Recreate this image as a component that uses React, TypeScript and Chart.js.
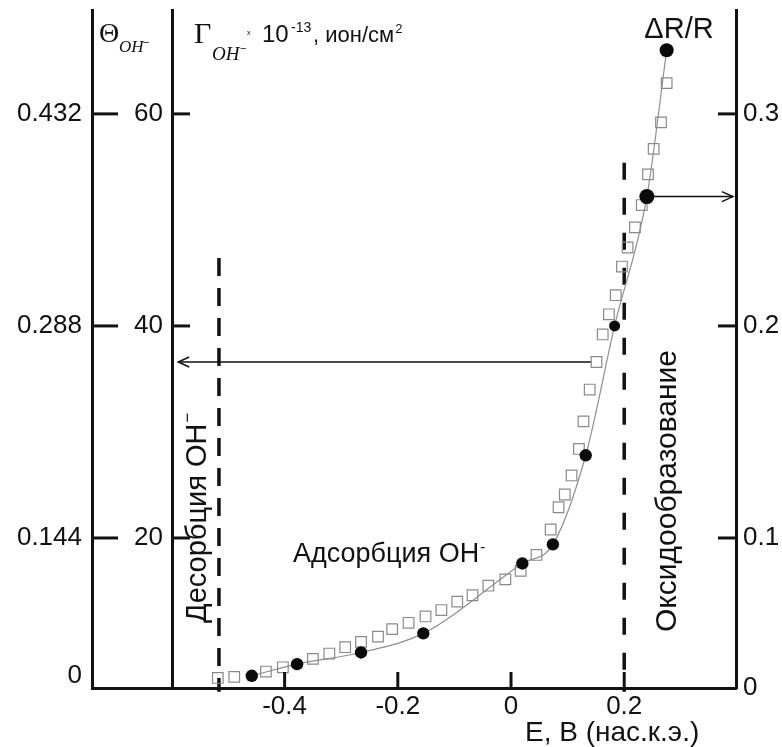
import React, { useEffect, useRef } from "react";
import { Chart, registerables } from "chart.js";

Chart.register(...registerables);

// ---------- data ----------
// Open squares: Γ(OH-) ×10^-13, ion/cm² vs E, V (sat. cal. el.)
const squareE = [-0.518, -0.489, -0.433, -0.403, -0.350, -0.321, -0.293, -0.265, -0.235, -0.210, -0.181, -0.151, -0.123, -0.095, -0.068, -0.040, -0.010, 0.017, 0.045, 0.070, 0.084, 0.095, 0.107, 0.120, 0.128, 0.139, 0.151, 0.162, 0.173, 0.185, 0.196, 0.206, 0.219, 0.231, 0.242, 0.252, 0.265, 0.275];
const squareGamma = [6.8, 6.9, 7.4, 7.8, 8.6, 9.1, 9.7, 10.2, 10.7, 11.4, 12.0, 12.6, 13.2, 14.0, 14.6, 15.5, 16.1, 16.9, 18.4, 20.8, 22.9, 24.1, 25.9, 28.4, 31.0, 34.0, 36.6, 39.2, 41.1, 42.9, 45.6, 47.4, 49.3, 51.4, 54.3, 56.7, 59.2, 62.9];

// Filled circles: ΔR/R vs E
const circleE = [-0.458, -0.378, -0.265, -0.155, 0.020, 0.074, 0.132, 0.183, 0.240, 0.275];
const circleR = [0.035, 0.0405, 0.046, 0.055, 0.088, 0.097, 0.139, 0.200, 0.261, 0.330];

// Axis ranges
const eMin = -0.7403;
const eMax = 0.3975;
const gammaMin = 5.85;
const gammaMax = 69.8;
const thetaPerGamma = 0.0072;
const rPerGamma = 0.005;
const gammaAxisE = -0.5972;

// Tick values / labels
const xTickValues = [-0.4, -0.2, 0, 0.2];
const xTickLabels = ["-0.4", "-0.2", "0", "0.2"];
const gammaTickValues = [20, 40, 60];
const gammaTickLabels = ["20", "40", "60"];
const thetaTickValues = [0.0504, 0.144, 0.288, 0.432];
const thetaTickLabels = ["0", "0.144", "0.288", "0.432"];
const rTickValues = [0.02925, 0.1, 0.2, 0.3];
const rTickLabels = ["0", "0.1", "0.2", "0.3"];

// Dashed boundaries (E, Γ range)
const desorptionE = -0.516;
const desorptionGamma = [46.4, 5.5];
const oxideE = 0.2;
const oxideGamma = [55.4, 5.5];

// Arrows
const adsorptionArrowE = [0.142, -0.588];
const adsorptionArrowGamma = 36.6;
const reflectArrowE = [0.250, 0.392];
const reflectArrowR = 0.261;

// ---------- styling ----------
const SANS = '"Liberation Sans", Arial, sans-serif';
const SERIF = '"Liberation Serif", "Times New Roman", serif';
const INK = "#111111";
const tickFont = { family: SANS, size: 26 };

function seg(ctx: any, x1: number, y1: number, x2: number, y2: number) {
  ctx.beginPath();
  ctx.moveTo(x1, y1);
  ctx.lineTo(x2, y2);
  ctx.stroke();
}

const decorPlugin = {
  id: "decor",
  afterDraw(chart: any) {
    const { ctx, chartArea, scales } = chart;
    const sx = scales.x;
    const sg = scales.y;
    const st = scales.yTheta;
    const sr = scales.yR;
    ctx.save();
    ctx.strokeStyle = INK;
    ctx.fillStyle = INK;
    ctx.lineWidth = 3;
    ctx.lineCap = "butt";

    const txt = (s: string, x: number, y: number, font: string, align: any = "left", base: any = "alphabetic") => {
      ctx.font = font;
      ctx.textAlign = align;
      ctx.textBaseline = base;
      ctx.fillText(s, x, y);
      return ctx.measureText(s).width;
    };

    // inward tick marks
    thetaTickValues.forEach((v, i) => {
      if (i === 0) return;
      const py = st.getPixelForValue(v);
      seg(ctx, chartArea.left, py, chartArea.left + 26, py);
    });
    const gx = sx.getPixelForValue(gammaAxisE);
    gammaTickValues.forEach((v, i) => {
      const py = sg.getPixelForValue(v);
      seg(ctx, gx, py, gx + 17, py);
      txt(gammaTickLabels[i], gx - 10, py, `26px ${SANS}`, "right", "middle");
    });
    rTickValues.forEach((v, i) => {
      if (i === 0) return;
      const py = sr.getPixelForValue(v);
      seg(ctx, chartArea.right - 18, py, chartArea.right, py);
    });
    xTickValues.forEach((v) => {
      const px = sx.getPixelForValue(v);
      seg(ctx, px, chartArea.bottom, px, chartArea.bottom - 16);
    });

    // arrow heads
    ctx.lineWidth = 1.5;
    const head = (tx: number, ty: number, dir: number) => {
      ctx.beginPath();
      ctx.moveTo(tx - dir * 11, ty - 5);
      ctx.lineTo(tx, ty);
      ctx.lineTo(tx - dir * 11, ty + 5);
      ctx.stroke();
    };
    head(sx.getPixelForValue(adsorptionArrowE[1]), sg.getPixelForValue(adsorptionArrowGamma), -1);
    head(sx.getPixelForValue(reflectArrowE[1]), sr.getPixelForValue(reflectArrowR), 1);

    // Θ_OH-
    txt("Θ", 99, 42, `28px ${SERIF}`);
    txt("OH", 119, 52, `italic 17px ${SERIF}`);
    txt("−", 143, 46, `11px ${SANS}`);

    // Γ_OH- x 10^-13, ион/см²
    txt("Γ", 194, 43, `30px ${SERIF}`);
    txt("OH", 212, 60, `italic 19px ${SERIF}`);
    txt("−", 240, 52, `11px ${SANS}`);
    txt("x", 247, 35, `7px ${SANS}`);
    txt("10", 262, 42, `24px ${SANS}`);
    txt("-13", 291, 32, `14px ${SANS}`);
    const w = txt(", ион/см", 313, 42, `22px ${SANS}`);
    txt("2", 313 + w + 1, 33, `13px ${SANS}`);

    // ΔR/R
    txt("ΔR/R", 679, 38, `29px ${SANS}`, "center");

    // Адсорбция OH-
    const wa = txt("Адсорбция OH", 293, 562, `27px ${SANS}`);
    txt("-", 293 + wa + 1, 552, `15px ${SANS}`);

    // rotated: Десорбция OH-
    ctx.save();
    ctx.translate(198, 623);
    ctx.rotate(-Math.PI / 2);
    const wd = txt("Десорбция OH", 0, 0, `29px ${SANS}`, "left", "middle");
    txt("−", wd + 1, -10, `17px ${SANS}`, "left", "middle");
    ctx.restore();

    // rotated: Оксидообразование
    ctx.save();
    ctx.translate(668, 632);
    ctx.rotate(-Math.PI / 2);
    txt("Оксидообразование", 0, 0, `30px ${SANS}`, "left", "middle");
    ctx.restore();

    // x-axis title
    txt("E, B (нас.к.э.)", 525, 741, `28px ${SANS}`);

    ctx.restore();
  },
};

export default function App() {
  const ref = useRef<HTMLCanvasElement>(null);

  useEffect(() => {
    const canvas = ref.current;
    if (!canvas) return;

    const squares = squareE.map((e, i) => ({ x: e, y: squareGamma[i] }));
    const circles = circleE.map((e, i) => ({ x: e, y: circleR[i] }));

    const chart = new Chart(canvas, {
      type: "scatter",
      data: {
        datasets: [
          {
            label: "ΔR/R",
            data: circles,
            yAxisID: "yR",
            showLine: false,
            pointStyle: "circle",
            pointRadius: (c: any) => (c.dataIndex === 8 ? 7.5 : c.dataIndex === 9 ? 7 : c.dataIndex === 7 ? 5.5 : 6.2),
            backgroundColor: "#0a0a0a",
            borderColor: "#0a0a0a",
            borderWidth: 0,
          } as any,
          {
            label: "Γ",
            data: squares,
            yAxisID: "y",
            showLine: false,
            pointStyle: "rect",
            pointRadius: 7.5,
            backgroundColor: "rgba(255,255,255,0)",
            borderColor: "#8a8a8a",
            borderWidth: 1.2,
          },
          {
            label: "curve",
            data: circles,
            yAxisID: "yR",
            showLine: true,
            pointRadius: 0,
            borderColor: "#8f8f8f",
            borderWidth: 1.2,
            cubicInterpolationMode: "monotone",
          } as any,
          {
            label: "arrowL",
            data: adsorptionArrowE.map((e) => ({ x: e, y: adsorptionArrowGamma })),
            yAxisID: "y",
            showLine: true,
            pointRadius: 0,
            borderColor: INK,
            borderWidth: 1.5,
          },
          {
            label: "arrowR",
            data: reflectArrowE.map((e) => ({ x: e, y: reflectArrowR })),
            yAxisID: "yR",
            showLine: true,
            pointRadius: 0,
            borderColor: INK,
            borderWidth: 1.5,
          },
          {
            label: "desorption",
            data: desorptionGamma.map((g) => ({ x: desorptionE, y: g })),
            yAxisID: "y",
            showLine: true,
            pointRadius: 0,
            borderColor: INK,
            borderWidth: 3.5,
            borderDash: [18, 12],
            clip: false,
          } as any,
          {
            label: "oxide",
            data: oxideGamma.map((g) => ({ x: oxideE, y: g })),
            yAxisID: "y",
            showLine: true,
            pointRadius: 0,
            borderColor: INK,
            borderWidth: 3.5,
            borderDash: [17, 18],
            clip: false,
          } as any,
        ],
      },
      options: {
        responsive: false,
        animation: false,
        layout: { padding: { top: 10, left: 0, right: 0, bottom: 0 } },
        plugins: {
          legend: { display: false },
          tooltip: { enabled: false },
        },
        scales: {
          x: {
            type: "linear",
            position: "bottom",
            min: eMin,
            max: eMax,
            afterBuildTicks: (s: any) => {
              s.ticks = xTickValues.map((v) => ({ value: v }));
            },
            afterFit: (s: any) => {
              s.height = 59;
              s.paddingLeft = 0;
              s.paddingRight = 0;
            },
            ticks: {
              callback: (_v: any, i: number) => xTickLabels[i],
              font: tickFont,
              color: INK,
              padding: 3,
              maxRotation: 0,
              autoSkip: false,
            },
            grid: { display: true, drawOnChartArea: false, drawTicks: false },
            border: { display: true, width: 3, color: INK },
          },
          y: {
            type: "linear",
            axis: "y",
            position: { x: gammaAxisE },
            min: gammaMin,
            max: gammaMax,
            afterBuildTicks: (s: any) => {
              s.ticks = gammaTickValues.map((v) => ({ value: v }));
            },
            afterFit: (s: any) => {
              s.paddingTop = 0;
              s.paddingBottom = 0;
            },
            ticks: { display: false },
            grid: { display: true, drawOnChartArea: false, drawTicks: false },
            border: { display: true, width: 3, color: INK },
          } as any,
          yTheta: {
            type: "linear",
            axis: "y",
            position: "left",
            min: gammaMin * thetaPerGamma,
            max: gammaMax * thetaPerGamma,
            afterBuildTicks: (s: any) => {
              s.ticks = thetaTickValues.map((v) => ({ value: v }));
            },
            afterFit: (s: any) => {
              s.width = 92;
              s.paddingTop = 0;
              s.paddingBottom = 0;
            },
            ticks: {
              callback: (_v: any, i: number) => thetaTickLabels[i],
              font: tickFont,
              color: INK,
              padding: 10,
              autoSkip: false,
            },
            grid: { display: true, drawOnChartArea: false, drawTicks: false },
            border: { display: true, width: 3, color: INK },
          } as any,
          yR: {
            type: "linear",
            axis: "y",
            position: "right",
            min: gammaMin * rPerGamma,
            max: gammaMax * rPerGamma,
            afterBuildTicks: (s: any) => {
              s.ticks = rTickValues.map((v) => ({ value: v }));
            },
            afterFit: (s: any) => {
              s.width = 46;
              s.paddingTop = 0;
              s.paddingBottom = 0;
            },
            ticks: {
              callback: (_v: any, i: number) => rTickLabels[i],
              font: tickFont,
              color: INK,
              padding: 7,
              autoSkip: false,
            },
            grid: { display: true, drawOnChartArea: false, drawTicks: false },
            border: { display: true, width: 3, color: INK },
          } as any,
        },
      } as any,
      plugins: [decorPlugin],
    });

    return () => chart.destroy();
  }, []);

  return (
    <div style={{ position: "absolute", left: 0, top: 0, width: 782, height: 747, background: "#ffffff" }}>
      <canvas ref={ref} width={782} height={747} style={{ display: "block", width: 782, height: 747 }} />
    </div>
  );
}
